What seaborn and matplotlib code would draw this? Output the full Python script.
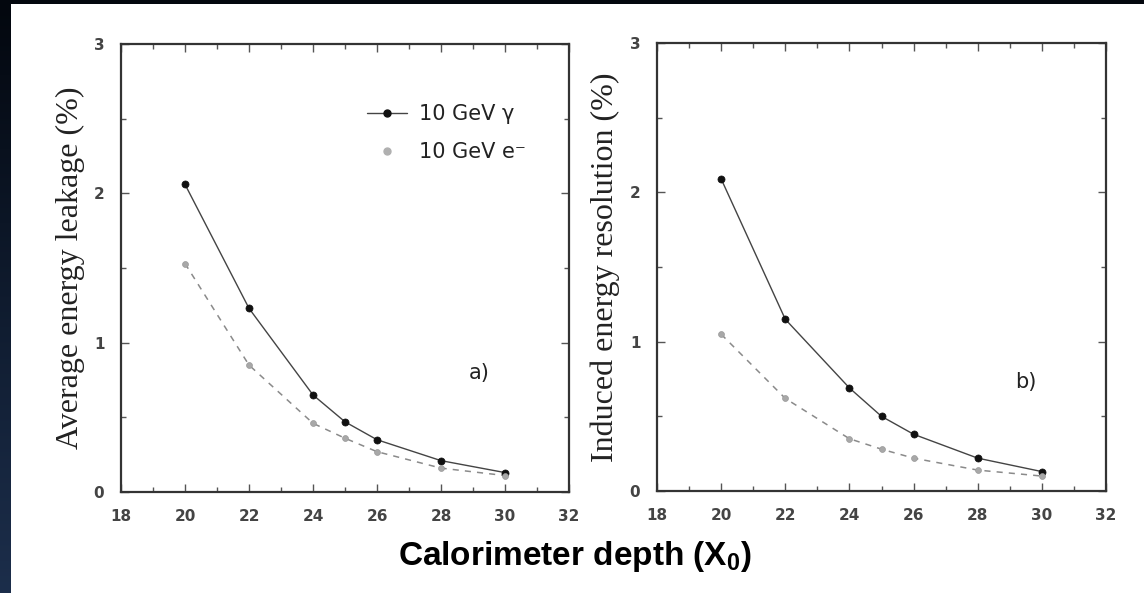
import numpy as np
import pandas as pd
import matplotlib
matplotlib.use("Agg")
import matplotlib.pyplot as plt
import seaborn as sns
from matplotlib.lines import Line2D
from matplotlib.patches import Rectangle
from matplotlib.ticker import MultipleLocator
from matplotlib.colors import LinearSegmentedColormap

# ---- data ----
depth = [20, 22, 24, 25, 26, 28, 30]
leak_gamma = [2.06, 1.23, 0.65, 0.47, 0.35, 0.21, 0.13]
leak_electron = [1.53, 0.85, 0.46, 0.36, 0.27, 0.16, 0.11]
res_gamma = [2.09, 1.15, 0.69, 0.50, 0.38, 0.22, 0.13]
res_electron = [1.05, 0.62, 0.35, 0.28, 0.22, 0.14, 0.10]
series_labels = ["10 GeV γ", "10 GeV e⁻"]
ylabels = ["Average energy leakage (%)", "Induced energy resolution (%)"]
panel_tags = ["a)", "b)"]
xticks = [18, 20, 22, 24, 26, 28, 30, 32]
yticks = [0, 1, 2, 3]

sns.set_theme(style="ticks")
plt.rcParams["font.family"] = ["DejaVu Sans"]
plt.rcParams["mathtext.fontset"] = "custom"
plt.rcParams["mathtext.bf"] = "Liberation Sans:bold"
plt.rcParams["mathtext.rm"] = "Liberation Sans:bold"

W, H = 1144, 593
fig = plt.figure(figsize=(W / 100, H / 100), dpi=100)
fig.patch.set_facecolor("#0d1726")

# background: dark gradient strip on the left, thin dark strip on top, white slide
bg = fig.add_axes([0, 0, 1, 1], zorder=-10)
grad = np.linspace(0, 1, 256).reshape(-1, 1)
cmap = LinearSegmentedColormap.from_list("bgblue", ["#03070e", "#0f1b2e", "#1c2e4b"])
bg.imshow(grad, aspect="auto", cmap=cmap, extent=[0, 1, 0, 1], origin="upper")
bg.add_patch(Rectangle((11 / W, 0), 1 - 11 / W, 1 - 4 / H, transform=bg.transAxes,
                       facecolor="white", edgecolor="none"))
bg.set_axis_off()

panels = [
    (leak_gamma, leak_electron),
    (res_gamma, res_electron),
]
axes_pos = [
    [121 / W, (H - 492) / H, 448 / W, 448 / H],
    [657 / W, (H - 491) / H, 449 / W, 448 / H],
]
tag_pos = [(29.2, 0.80), (29.5, 0.73)]
label_x = [-0.112, -0.116]

for i, (g, e) in enumerate(panels):
    ax = fig.add_axes(axes_pos[i])
    ax.set_facecolor("none")
    df = pd.DataFrame({
        "depth": depth * 2,
        "value": list(g) + list(e),
        "series": [series_labels[0]] * len(depth) + [series_labels[1]] * len(depth),
    })
    dg = df[df.series == series_labels[0]]
    de = df[df.series == series_labels[1]]
    sns.lineplot(data=dg, x="depth", y="value", ax=ax, color="#444444",
                 linewidth=1.0, legend=False, zorder=2)
    sns.lineplot(data=de, x="depth", y="value", ax=ax, color="#8a8a8a",
                 linewidth=1.1, linestyle=(0, (4, 4)), legend=False, zorder=2)
    sns.scatterplot(data=dg, x="depth", y="value", ax=ax, color="#111111",
                    s=26, edgecolor="#111111", linewidth=0.5, legend=False, zorder=3)
    sns.scatterplot(data=de, x="depth", y="value", ax=ax, color="#a8a8a8",
                    s=18, edgecolor="#999999", linewidth=0.5, legend=False, zorder=3)

    ax.set_xlim(18, 32)
    ax.set_ylim(0, 3)
    ax.set_xticks(xticks)
    ax.set_yticks(yticks)
    ax.xaxis.set_minor_locator(MultipleLocator(1))
    ax.yaxis.set_minor_locator(MultipleLocator(0.5))
    ax.tick_params(which="both", direction="in", top=True, right=True,
                   color="#555555", width=1.0)
    ax.tick_params(which="major", length=6)
    ax.tick_params(which="minor", length=3.5)
    ax.tick_params(axis="x", which="major", pad=12)
    ax.tick_params(axis="y", which="major", pad=12)
    for lab in ax.get_xticklabels() + ax.get_yticklabels():
        lab.set_fontsize(11)
        lab.set_fontweight("bold")
        lab.set_color("#444444")
    for sp in ax.spines.values():
        sp.set_color("#333333")
        sp.set_linewidth(1.6)
    ax.set_xlabel("")
    ax.set_ylabel(ylabels[i], family="Liberation Serif", fontsize=23, color="#222222")
    ax.yaxis.set_label_coords(label_x[i], 0.5)
    ax.yaxis.label.set_verticalalignment("center")
    ax.text(tag_pos[i][0], tag_pos[i][1], panel_tags[i], fontsize=15, color="#222222",
            ha="center", va="center")

    if i == 0:
        handles = [
            Line2D([0], [0], color="#444444", linewidth=1.0, marker="o",
                   markersize=5, markerfacecolor="#111111", markeredgecolor="#111111"),
            Line2D([0], [0], color="none", marker="o", markersize=5,
                   markerfacecolor="#b0b0b0", markeredgecolor="#b0b0b0"),
        ]
        leg = ax.legend(handles, series_labels, loc="upper left",
                        bbox_to_anchor=(0.549, 0.865), frameon=False,
                        fontsize=15, handlelength=1.9, handletextpad=0.6,
                        labelspacing=0.85, borderpad=0, borderaxespad=0)
        for t in leg.get_texts():
            t.set_color("#222222")

fig.text(575 / W, (H - 556) / H, r"Calorimeter depth (X$_\mathbf{0}$)",
         family="Liberation Sans", fontweight="bold", fontsize=24,
         color="black", ha="center", va="center")

fig.savefig("out.png", dpi=100, facecolor=fig.get_facecolor())
